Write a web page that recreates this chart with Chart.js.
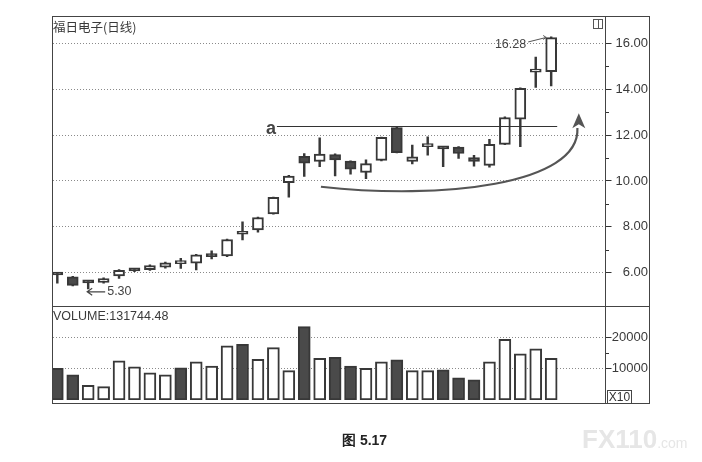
<!DOCTYPE html>
<html>
<head>
<meta charset="utf-8">
<script src="https://cdn.jsdelivr.net/npm/chart.js@4.4.0/dist/chart.umd.min.js"></script>
<style>
  body { margin: 0; background: #fff; width: 702px; height: 462px; position: relative; overflow: hidden; font-family: "Liberation Sans", Arial, sans-serif; color: #333; }
  canvas { position: absolute; left: 0; top: 0; }
  .lbl { position: absolute; white-space: nowrap; }
</style>
</head>
<body>
<canvas id="volChart" width="702" height="462"></canvas>
<canvas id="priceChart" width="702" height="462"></canvas>

<div class="lbl" style="left:53px;top:19px;font-size:12.5px;line-height:15px;font-family:'Noto Sans CJK SC';color:#3a3a3a">福日电子(日线)</div>
<div class="lbl" style="left:53px;top:309px;font-size:12.5px;line-height:14px;color:#3a3a3a">VOLUME:131744.48</div>
<div class="lbl" style="left:593px;top:19px;width:8px;height:8px;border:1px solid #555;"><div style="position:absolute;left:4px;top:0;width:1px;height:8px;background:#555"></div></div>
<div class="lbl" style="left:607px;top:390px;width:23px;height:12px;border:1px solid #444;font-size:12px;line-height:12px;text-align:center;color:#333">X10</div>
<div class="lbl" style="left:342px;top:433px;font-size:14px;line-height:14px;font-weight:bold;color:#222">图 5.17</div>
<div class="lbl" style="left:582px;top:426px;font-size:26px;line-height:26px;font-weight:bold;color:#e6e6e6">FX110<span style="font-size:14px;font-weight:normal">.com</span></div>

<script>
// daily candles, left to right
const opens  = [5.98, 5.82, 5.60, 5.58, 5.86, 6.12, 6.13, 6.24, 6.40, 6.42, 6.74, 6.73, 7.68, 7.87, 8.56, 9.93, 11.08, 10.85, 11.15, 10.87, 10.37, 10.90, 12.33, 10.85, 11.50, 11.43, 11.48, 11.02, 10.68, 11.60, 12.70, 14.75, 14.77];
const highs  = [6.02, 5.84, 5.65, 5.78, 6.14, 6.16, 6.35, 6.46, 6.63, 6.80, 6.95, 7.47, 8.22, 8.43, 9.30, 10.25, 11.20, 11.88, 11.18, 10.88, 10.92, 11.92, 12.35, 11.57, 11.93, 11.46, 11.50, 11.12, 11.82, 12.80, 14.06, 15.40, 16.28];
const lows   = [5.55, 5.43, 5.30, 5.55, 5.75, 6.05, 6.10, 6.20, 6.19, 6.12, 6.60, 6.70, 7.43, 7.77, 8.55, 9.29, 10.20, 10.62, 10.22, 10.30, 10.10, 10.87, 11.22, 10.74, 11.13, 10.62, 10.98, 10.65, 10.60, 11.58, 11.50, 14.08, 14.14];
const closes = [5.90, 5.45, 5.56, 5.75, 6.11, 6.08, 6.31, 6.43, 6.42, 6.78, 6.70, 7.45, 7.72, 8.41, 9.29, 10.21, 10.78, 11.17, 10.92, 10.52, 10.76, 11.90, 11.24, 11.05, 11.54, 11.40, 11.20, 10.85, 11.60, 12.77, 14.04, 14.78, 16.25];

const volumes = [10100, 8000, 4700, 4250, 12500, 10600, 8700, 8000, 10300, 12200, 10850, 17300, 17800, 13000, 16700, 9350, 23400, 13300, 13600, 10850, 10100, 12200, 12800, 9350, 9350, 9600, 7100, 6400, 12200, 19400, 14700, 16300, 13300];
const volFall = [1, 1, 0, 0, 0, 0, 0, 0, 1, 0, 0, 0, 1, 0, 0, 0, 1, 0, 1, 1, 0, 0, 1, 0, 0, 1, 1, 1, 0, 0, 0, 0, 0];

const priceTicks = [6, 8, 10, 12, 14, 16];
const priceMinor = [7, 9, 11, 13, 15];
const volTicks = [10000, 20000];
const volMinor = [15000];

// annotations (data units)
const levelA = 12.41;
const levelFrom = 14.23, levelTo = 32.39;
const curvePts = [[17.08, 9.75], [24.82, 9.17], [33.89, 9.82], [33.70, 12.31]];
const curveTip = [33.79, 12.95];

const idx = opens.map((_, i) => i);
const bodies = idx.map(i => ({ x: i, y: [opens[i], closes[i]] }));
const wicks = idx.map(i => ({ x: i, y: [lows[i], highs[i]] }));
const volData = idx.map(i => ({ x: i, y: volumes[i] }));

const xAxis = { type: 'linear', display: false, min: -0.28, max: 35.52, offset: false };
const tickFont = { family: 'Liberation Sans', size: 13 };

const minorTicks = (vals) => ({
  id: 'minor',
  afterDraw(chart) {
    const { ctx, scales: { y } } = chart;
    ctx.save();
    ctx.strokeStyle = '#333';
    ctx.lineWidth = 1;
    vals.forEach(v => {
      const py = Math.round(y.getPixelForValue(v)) + 0.5;
      ctx.beginPath();
      ctx.moveTo(605.5, py);
      ctx.lineTo(609, py);
      ctx.stroke();
    });
    ctx.restore();
  }
});

const frame = {
  id: 'frame',
  afterDraw(chart) {
    const ctx = chart.ctx;
    ctx.save();
    ctx.strokeStyle = '#444';
    ctx.lineWidth = 1;
    ctx.strokeRect(52.5, 16.5, 597, 387);
    ctx.beginPath();
    ctx.moveTo(52.5, 306.5); ctx.lineTo(649.5, 306.5);
    ctx.moveTo(605.5, 16.5); ctx.lineTo(605.5, 403.5);
    ctx.stroke();
    ctx.restore();
  }
};

const annot = {
  id: 'annot',
  afterDatasetsDraw(chart) {
    const { ctx, scales: { x, y } } = chart;
    ctx.save();
    // resistance level a
    const ly = Math.round(y.getPixelForValue(levelA)) + 0.5;
    ctx.strokeStyle = '#333';
    ctx.lineWidth = 1.2;
    ctx.beginPath();
    ctx.moveTo(x.getPixelForValue(levelFrom), ly);
    ctx.lineTo(x.getPixelForValue(levelTo), ly);
    ctx.stroke();
    ctx.fillStyle = '#444';
    ctx.font = 'bold 18px "Liberation Sans"';
    ctx.textAlign = 'right';
    ctx.textBaseline = 'alphabetic';
    ctx.fillText('a', x.getPixelForValue(levelFrom) - 1, ly + 7);

    // rounding bottom arrow
    const p = curvePts.map(([i, v]) => [x.getPixelForValue(i), y.getPixelForValue(v)]);
    ctx.strokeStyle = '#555';
    ctx.lineWidth = 2.2;
    ctx.beginPath();
    ctx.moveTo(p[0][0], p[0][1]);
    ctx.bezierCurveTo(p[1][0], p[1][1], p[2][0], p[2][1], p[3][0], p[3][1]);
    ctx.stroke();
    const tx = x.getPixelForValue(curveTip[0]), ty = y.getPixelForValue(curveTip[1]);
    ctx.fillStyle = '#555';
    ctx.beginPath();
    ctx.moveTo(tx, ty);
    ctx.lineTo(tx + 6.5, ty + 15);
    ctx.lineTo(tx, ty + 11);
    ctx.lineTo(tx - 6.5, ty + 15);
    ctx.closePath();
    ctx.fill();

    // high label 16.28
    const last = highs.length - 1;
    const hx = x.getPixelForValue(last), hy = y.getPixelForValue(highs[last]);
    ctx.fillStyle = '#444';
    ctx.font = '12.5px "Liberation Sans"';
    ctx.textAlign = 'right';
    ctx.textBaseline = 'middle';
    ctx.fillText(highs[last].toFixed(2), hx - 25, hy + 8);
    ctx.strokeStyle = '#555';
    ctx.lineWidth = 1;
    ctx.beginPath();
    ctx.moveTo(hx - 23, hy + 5);
    ctx.lineTo(hx - 5, hy + 0.5);
    ctx.moveTo(hx - 8, hy - 1.5);
    ctx.lineTo(hx - 5, hy + 0.5);
    ctx.lineTo(hx - 8, hy + 2.5);
    ctx.stroke();

    // low label 5.30
    let li = 0;
    lows.forEach((v, i) => { if (v < lows[li]) li = i; });
    const lx = x.getPixelForValue(li), lyy = y.getPixelForValue(lows[li]) + 3;
    ctx.strokeStyle = '#444';
    ctx.lineWidth = 1.2;
    ctx.beginPath();
    ctx.moveTo(lx - 1, lyy);
    ctx.lineTo(lx + 17, lyy);
    ctx.moveTo(lx + 4, lyy - 3.5);
    ctx.lineTo(lx - 1, lyy);
    ctx.lineTo(lx + 4, lyy + 3.5);
    ctx.stroke();
    ctx.textAlign = 'left';
    ctx.fillText(lows[li].toFixed(2), lx + 19, lyy);
    ctx.restore();
  }
};

new Chart(document.getElementById('priceChart'), {
  type: 'bar',
  data: {
    datasets: [
      {
        data: bodies,
        backgroundColor: idx.map(i => closes[i] < opens[i] ? '#4a4a4a' : '#fff'),
        borderColor: '#383838',
        borderWidth: 2,
        borderSkipped: false,
        barThickness: 11,
        minBarLength: 3,
        grouped: false
      },
      {
        data: wicks,
        backgroundColor: '#383838',
        borderWidth: 0,
        barThickness: 1.8,
        grouped: false
      }
    ]
  },
  options: {
    responsive: false,
    animation: false,
    events: [],
    layout: { padding: { left: 53, right: 54, top: 17, bottom: 156 } },
    plugins: { legend: { display: false }, tooltip: { enabled: false } },
    scales: {
      x: xAxis,
      y: {
        position: 'right',
        min: 4.55,
        max: 17.15,
        afterFit(s) { s.width = 42.5; },
        afterBuildTicks(s) { s.ticks = priceTicks.map(v => ({ value: v })); },
        ticks: { crossAlign: 'far', color: '#3a3a3a', font: tickFont, callback: v => Number(v).toFixed(2) },
        grid: { color: '#8a8a8a', lineWidth: 1, tickLength: 6, tickColor: '#333' },
        border: { display: false, dash: [1, 2] }
      }
    }
  },
  plugins: [annot, minorTicks(priceMinor), frame]
});

new Chart(document.getElementById('volChart'), {
  type: 'bar',
  data: {
    datasets: [{
      data: volData,
      backgroundColor: volFall.map(f => f ? '#4a4a4a' : '#fff'),
      borderColor: '#383838',
      borderWidth: 2,
      borderSkipped: false,
      barThickness: 12
    }]
  },
  options: {
    responsive: false,
    animation: false,
    events: [],
    layout: { padding: { left: 53, right: 54, top: 306, bottom: 62 } },
    plugins: { legend: { display: false }, tooltip: { enabled: false } },
    scales: {
      x: xAxis,
      y: {
        position: 'right',
        min: 0,
        max: 30000,
        afterFit(s) { s.width = 42.5; },
        afterBuildTicks(s) { s.ticks = volTicks.map(v => ({ value: v })); },
        ticks: { crossAlign: 'far', color: '#3a3a3a', font: tickFont, callback: v => String(v) },
        grid: { color: '#8a8a8a', lineWidth: 1, tickLength: 6, tickColor: '#333' },
        border: { display: false, dash: [1, 2] }
      }
    }
  },
  plugins: [minorTicks(volMinor)]
});
</script>
</body>
</html>
